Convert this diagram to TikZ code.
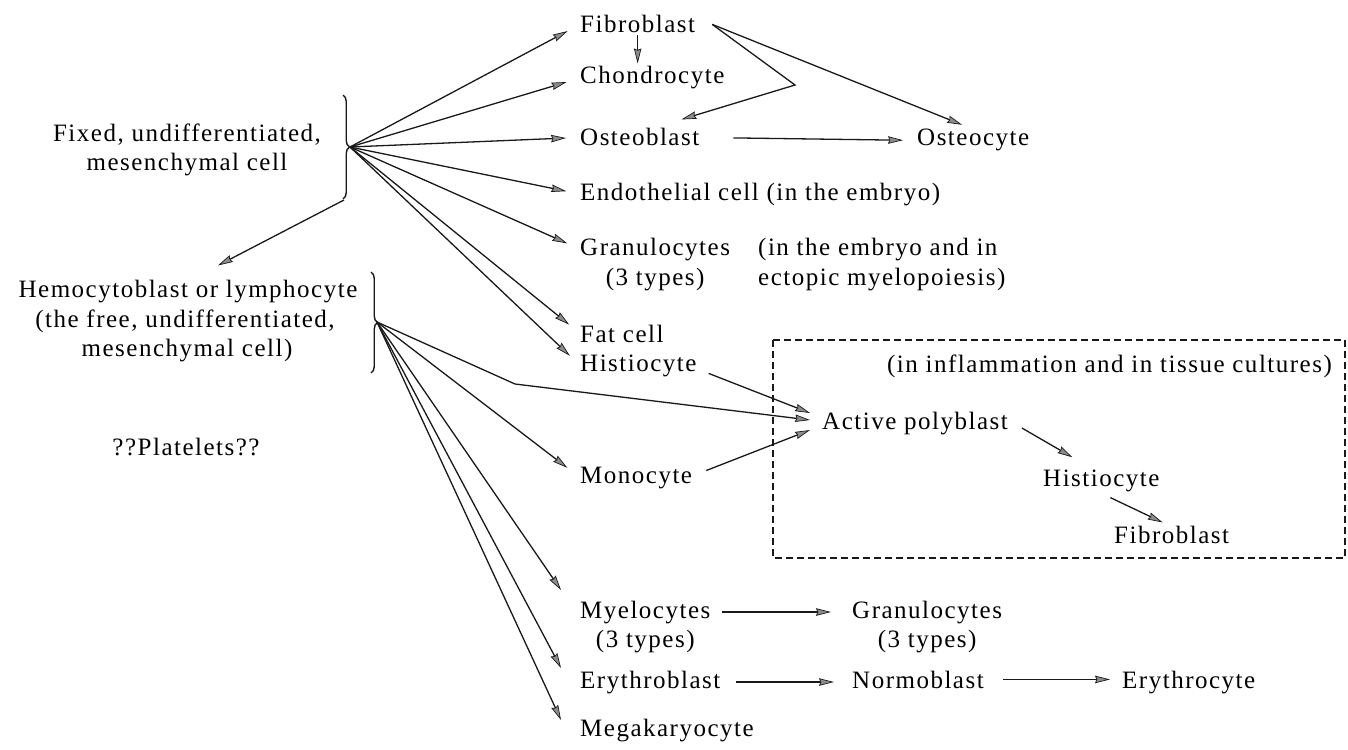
\documentclass[tikz,border=0pt]{standalone}
\usepackage{fontspec}
\setmainfont[LetterSpace=6]{Liberation Serif}
\usetikzlibrary{arrows.meta,decorations.pathreplacing}
\begin{document}
\begin{tikzpicture}[x=1pt,y=-1pt,
  font=\fontsize{25}{30}\selectfont,
  lbl/.style={inner sep=0pt, anchor=base west},
  clbl/.style={inner sep=0pt, anchor=base},
  ln/.style={line width=1.3pt, draw=black!90},
  arr/.style={ln, -{Stealth[length=15pt,width=7.5pt,inset=1.5pt,fill=black!45,color=black!90,line width=0.7pt]}},
  bracestyle/.style={line width=1.4pt, draw=black!90, decorate, decoration={brace, amplitude=6.5pt}},
  dashbox/.style={line width=1.3pt, draw=black!90, dash pattern=on 7pt off 4pt}]
\useasboundingbox (0,0) rectangle (1348,749);

% left column
\node[clbl] (fixed1) at (187,141) {Fixed, undifferentiated,};
\node[clbl] (fixed2) at (187,170) {mesenchymal cell};
\node[clbl] (hemo1) at (188,297) {Hemocytoblast or lymphocyte};
\node[clbl] (hemo2) at (185,327) {(the free, undifferentiated,};
\node[clbl] (hemo3) at (187,356) {mesenchymal cell)};
\node[clbl] (plat) at (186,455) {??Platelets??};

% braces
\draw[bracestyle] (343,95) -- (343,199);
\coordinate (b1tip) at (350,147);
\coordinate (b1bot) at (344,200);
\draw[bracestyle] (371,272) -- (371,373);
\coordinate (b2tip) at (377,322);

% middle column
\node[lbl] (fib) at (580,33) {Fibroblast};
\node[lbl] (chon) at (580,84) {Chondrocyte};
\node[lbl] (ostb) at (580,146) {Osteoblast};
\node[lbl] (ostc) at (917,146) {Osteocyte};
\node[lbl] (endo) at (580,200) {Endothelial cell (in the embryo)};
\node[lbl] (gran) at (580,255) {Granulocytes};
\node[clbl] (gran3) at ([yshift=-30pt]gran.base) {(3 types)};
\node[lbl] (emb1) at (758,255) {(in the embryo and in};
\node[lbl] (emb2) at (758,285) {ectopic myelopoiesis)};
\node[lbl] (fat) at (580,342) {Fat cell};
\node[lbl] (hist) at (580,371) {Histiocyte};
\node[lbl] (mono) at (580,483) {Monocyte};
\node[lbl] (myel) at (580,618) {Myelocytes};
\node[clbl] (myel3) at ([yshift=-29pt]myel.base) {(3 types)};
\node[lbl] (gran2) at (852,618) {Granulocytes};
\node[clbl] (gran23) at ([yshift=-29pt]gran2.base) {(3 types)};
\node[lbl] (ery) at (580,688) {Erythroblast};
\node[lbl] (norm) at (852,688) {Normoblast};
\node[lbl] (eryc) at (1122,688) {Erythrocyte};
\node[lbl] (mega) at (580,736) {Megakaryocyte};

% dashed box
\draw[dashbox] (773,340) rectangle (1345,558);
\node[inner sep=0pt, anchor=base east] (infl) at (1332,372) {(in inflammation and in tissue cultures)};
\node[lbl] (act) at (822,429) {Active polyblast};
\node[lbl] (hist2) at (1043,486) {Histiocyte};
\node[lbl] (fib2) at (1114,543) {Fibroblast};

% fan from first brace
\foreach \t in {fib,chon,ostb,endo,gran,fat,hist}
  \draw[arr, shorten >=14pt] (b1tip) -- (\t.west);
\draw[arr] (b1bot) -- ([shift={(30,-14)}]hemo1.north);

% fan from second brace
\coordinate (kink) at (515,384);
\draw[arr] (b2tip) -- (kink) -- ([shift={(-12,-3)}]act.west);
\draw[arr, shorten >=16pt] (b2tip) -- (mono.west);
\draw[arr] (b2tip) -- ([shift={(-19,-22)}]myel.west);
\draw[arr] (b2tip) -- ([shift={(-19,-14)}]ery.west);
\draw[arr] (b2tip) -- ([shift={(-19,-10)}]mega.west);

% fibroblast group
\draw[arr, shorten <=2pt, shorten >=3pt] (fib.south) -- (fib.south |- chon.north);
\coordinate (zz) at (795,85);
\draw[arr] ([xshift=17pt]fib.east) -- (zz) -- ([shift={(-18,-9)}]ostb.north east);
\draw[arr, shorten >=12pt] ([xshift=17pt]fib.east) -- (ostc.north);
\draw[arr, shorten <=34pt, shorten >=14pt] (ostb.east) -- (ostc.west);

% into the box
\draw[arr] ([shift={(12,8)}]hist.east) -- ([shift={(-12,-10)}]act.west);
\draw[arr] ([shift={(14,-7)}]mono.east) -- ([shift={(-12,7)}]act.west);
\draw[arr] ([shift={(14,5)}]act.east) -- ([shift={(-29,-12)}]hist2.north);
\draw[arr] ([shift={(9,6)}]hist2.south) -- ([shift={(-9,-3)}]fib2.north);

% bottom chains
\draw[arr, shorten <=11pt, shorten >=21pt] (myel.east) -- (myel.east -| gran2.west);
\draw[arr, shorten <=16pt, shorten >=18pt] (ery.east) -- (ery.east -| norm.west);
\draw[arr, shorten <=19pt, shorten >=12pt] (norm.east) -- (norm.east -| eryc.west);
\end{tikzpicture}
\end{document}
